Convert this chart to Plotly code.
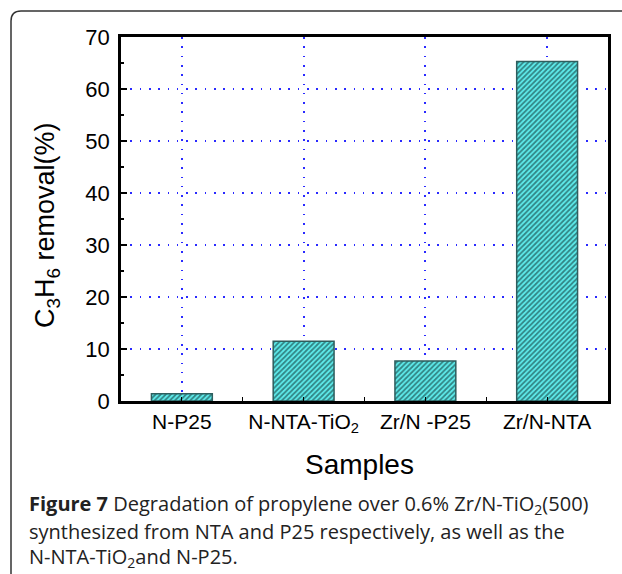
import plotly.graph_objects as go

categories = ["N-P25", "N-NTA-TiO<sub>2</sub>", "Zr/N -P25", "Zr/N-NTA"]
removal = [1.4, 11.5, 7.7, 65.3]
y_ticks = [0, 10, 20, 30, 40, 50, 60, 70]

W, H = 622, 574
L, R, T, B = 121, 14, 37, 173
pw, ph = W - L - R, H - T - B

def px(x):
    return (x - L) / pw

def py(y):
    return (H - B - y) / ph

xpos = list(range(len(categories)))

fig = go.Figure()
fig.add_trace(go.Bar(
    x=xpos, y=removal, width=0.5,
    marker=dict(color="#5FEEEE",
                line=dict(color="#2E5E5E", width=1.5),
                pattern=dict(shape="/", fgcolor="#061C1C", size=3.6, solidity=0.52)),
    showlegend=False,
))

grid = dict(showgrid=True, gridcolor="#2A2AFF", gridwidth=1.6, griddash="1.6px,7.7px")

fig.update_layout(
    width=W, height=H,
    margin=dict(l=L, r=R, t=T, b=B),
    paper_bgcolor="white", plot_bgcolor="white",
    font=dict(family="Liberation Sans, Arial, sans-serif", color="black"),
    xaxis=dict(range=[-0.5, 3.5], tickvals=xpos, ticktext=categories,
               tickfont=dict(size=21), ticks="inside", ticklen=4, tickcolor="black",
               showline=True, linecolor="black", linewidth=2.5, mirror=True,
               minor=dict(tick0=0.5, dtick=1, ticks="inside", ticklen=4, tickcolor="black", showgrid=False),
               zeroline=False, **grid),
    yaxis=dict(range=[0, 70], tickvals=y_ticks, tickfont=dict(size=22),
               ticks="inside", ticklen=6, tickwidth=1.5, tickcolor="black",
               showline=True, linecolor="black", linewidth=2.5, mirror=True,
               minor=dict(dtick=5, ticks="inside", ticklen=3, tickwidth=1.5, tickcolor="black", showgrid=False),
               zeroline=False, ticklabelstandoff=4, **grid),
)

# axis titles
fig.add_annotation(text="C<sub>3</sub>H<sub>6</sub> removal(%)", x=px(47), y=py(225), xref="paper", yref="paper",
                   textangle=-90, showarrow=False, xanchor="center", yanchor="middle",
                   font=dict(size=27, family="Liberation Sans, Arial, sans-serif", color="black"))
fig.add_annotation(text="Samples", x=px(359), y=py(464), xref="paper", yref="paper",
                   showarrow=False, xanchor="center", yanchor="middle",
                   font=dict(size=28, family="Liberation Sans, Arial, sans-serif", color="black"))

# caption
cap_lines = [
    "<b>Figure 7</b> Degradation of propylene over 0.6% Zr/N-TiO<sub>2</sub>(500)",
    "synthesized from NTA and P25 respectively, as well as the",
    "N-NTA-TiO<sub>2</sub>and N-P25.",
]
cap_y = [505, 531, 557]
for t, yy in zip(cap_lines, cap_y):
    fig.add_annotation(text=t, x=px(27), y=py(yy), xref="paper", yref="paper",
                       showarrow=False, xanchor="left", yanchor="middle",
                       font=dict(size=20, family="Open Sans, sans-serif", color="#222222"))

# outer rounded frame
path = (f"M {px(11)},{py(574)} L {px(11)},{py(21)} "
        f"Q {px(11)},{py(11)} {px(21)},{py(11)} L {px(622)},{py(11)}")
fig.add_shape(type="path", path=path, xref="paper", yref="paper",
              line=dict(color="#333333", width=1.5))

fig.write_html("out.html", config={"displayModeBar": False},
               post_script="document.body.style.margin='0';document.body.style.overflow='hidden';")
